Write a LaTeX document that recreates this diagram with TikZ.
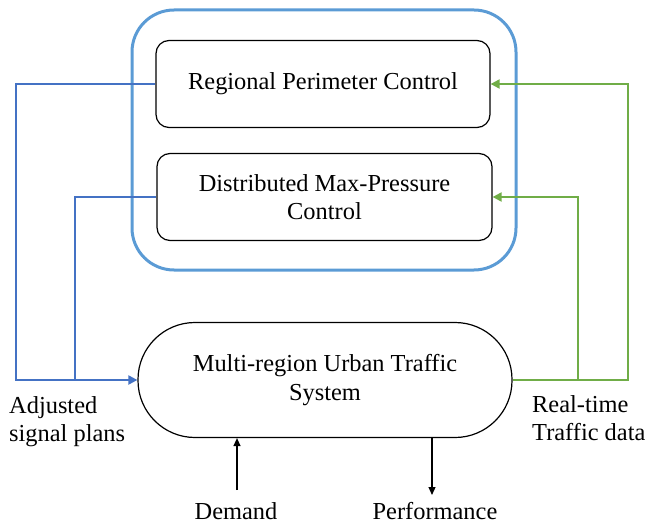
\documentclass[tikz,border=0pt]{standalone}
\usepackage{fontspec}
\setmainfont{Liberation Serif}
\usetikzlibrary{arrows.meta}
\definecolor{frameblue}{RGB}{91,155,213}
\definecolor{linkblue}{RGB}{68,114,196}
\definecolor{linkgreen}{RGB}{112,173,71}
\tikzset{
  ctrlbox/.style={draw=black, line width=1.2pt, rounded corners=13pt},
  blueline/.style={draw=linkblue, line width=2pt, -{Triangle[length=9pt,width=9pt]}},
  greenline/.style={draw=linkgreen, line width=2pt, -{Triangle[length=9pt,width=9pt]}},
  ioline/.style={draw=black, line width=1.2pt, -{Triangle[length=8pt,width=7pt]}},
  lbl/.style={font=\fontsize{24.4}{28.5}\selectfont, align=center, inner sep=0pt},
  iolbl/.style={font=\fontsize{24.4}{28.5}\selectfont, inner sep=0pt, text depth=0pt, anchor=base},
}
\begin{document}
\begin{tikzpicture}[x=1pt, y=-1pt]
\useasboundingbox (0,0) rectangle (651,524);
% controller frame
\draw[frameblue, line width=3pt, rounded corners=42pt] (132,10) rectangle (516,270);
% control layers
\node[ctrlbox, minimum width=334pt, minimum height=87pt, lbl] (rpc) at (323,84) {Regional Perimeter Control};
\node[ctrlbox, minimum width=335pt, minimum height=87pt, lbl] (dmp) at (324.5,197) {Distributed Max-Pressure\\Control};
% traffic system
\node[draw=black, line width=1.2pt, rounded corners=57pt, minimum width=374pt, minimum height=115pt, lbl] (sys) at (325,380) {Multi-region Urban Traffic\\System};
% feedback to the system
\coordinate (bl1) at (16,84);
\coordinate (bl2) at (75,197);
\draw[blueline] (rpc.west) -- (bl1) |- (sys.west);
\draw[linkblue, line width=2pt] (dmp.west) -- (bl2) -- (75,380);
% measurements to the controllers
\coordinate (gr1) at (628,380);
\coordinate (gr2) at (578,380);
\draw[greenline] (sys.east) -- (gr1) |- (rpc.east);
\draw[greenline] (gr2) |- (dmp.east);
% inputs and outputs
\coordinate (dm) at (237,490);
\coordinate (pf) at (432,437);
\draw[ioline] (dm) -- (dm |- sys.south);
\draw[ioline] (pf) -- (432,495);
% labels
\node[lbl, align=left, anchor=north west] (adj) at (9,396) {Adjusted\\signal plans};
\node[lbl, align=left, anchor=north west] (rt) at (532,395) {Real-time\\Traffic data};
\node[iolbl] (dl) at (236,519) {Demand};
\node[iolbl] (pl) at (435,519) {Performance};
\end{tikzpicture}
\end{document}
